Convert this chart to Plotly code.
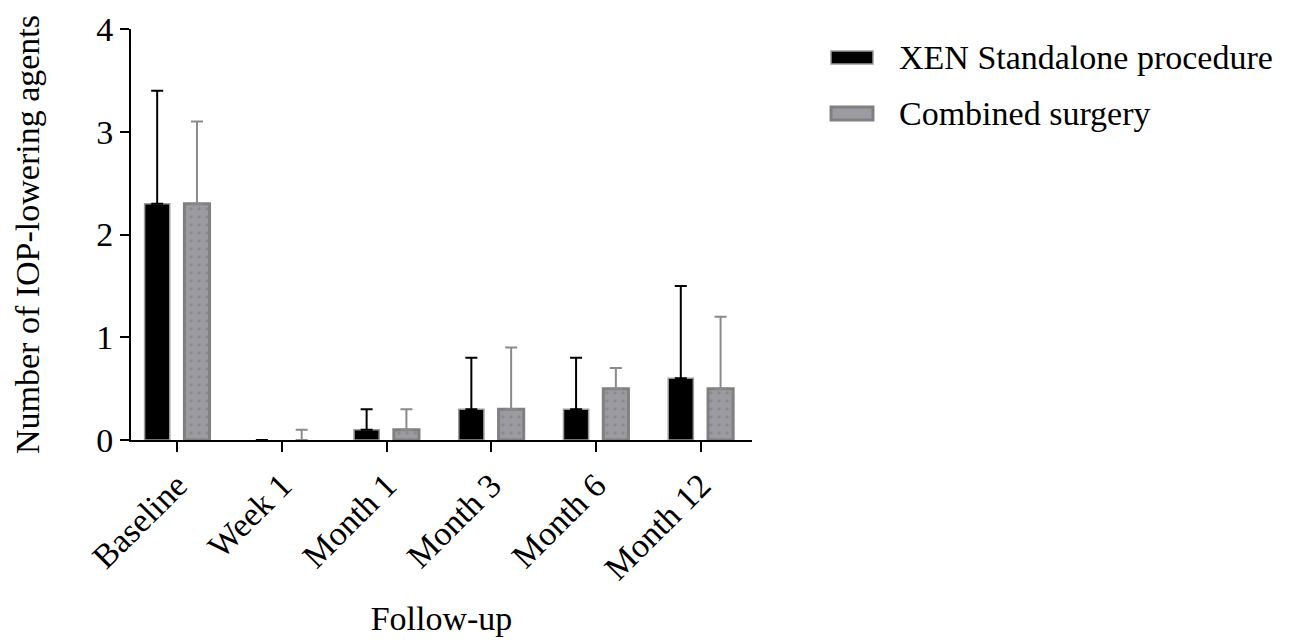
import plotly.graph_objects as go

categories = ["Baseline", "Week 1", "Month 1", "Month 3", "Month 6", "Month 12"]
xen_mean = [2.3, 0.0, 0.1, 0.3, 0.3, 0.6]
xen_sd = [1.1, None, 0.2, 0.5, 0.5, 0.9]
comb_mean = [2.3, 0.0, 0.1, 0.3, 0.5, 0.5]
comb_sd = [0.8, 0.1, 0.2, 0.6, 0.2, 0.7]
series_names = ["XEN Standalone procedure", "Combined surgery"]
y_ticks = [0, 1, 2, 3, 4]

FONT = "Liberation Serif, Times New Roman, serif"
FS = 34

# page body margin compensation
OFF = 8
W, H = 1302 - OFF, 643 - OFF
L, R, T, B = 131 - OFF, 752 - OFF, 29 - OFF, 440 - OFF
pw, ph = R - L, B - T

def px(x):
    return (x - OFF - L) / pw

def py(y):
    return (B - (y - OFF)) / ph

def outline_widths(vals, w):
    return [w if v > 0 else 0 for v in vals]

def lower(errs):
    return [None if e is None else 0 for e in errs]

fig = go.Figure()
fig.add_trace(go.Bar(
    x=categories, y=xen_mean, name=series_names[0],
    width=0.24, offset=-0.31,
    marker=dict(color="black", line=dict(color="#9a9a9a", width=outline_widths(xen_mean, 1.5))),
    error_y=dict(type="data", array=xen_sd, arrayminus=lower(xen_sd),
                 symmetric=False, color="black", thickness=2, width=6),
    showlegend=False,
))
fig.add_trace(go.Bar(
    x=categories, y=comb_mean, name=series_names[1],
    width=0.24, offset=0.07,
    marker=dict(color="#9c9ba1", line=dict(color="#808080", width=outline_widths(comb_mean, 3)),
                pattern=dict(shape=".", fgcolor="#7a7a7a", bgcolor="#9c9ba1",
                             size=8, solidity=0.15)),
    error_y=dict(type="data", array=comb_sd, arrayminus=lower(comb_sd),
                 symmetric=False, color="#8a8a8a", thickness=2, width=6),
    showlegend=False,
))

# manual legend
legend_rows = [(51, 64, 57, "black", "#9a9a9a", 1.5), (107, 120, 114, "#9c9ba1", "#808080", 3)]
shapes = []
annotations = []
for (y0, y1, yc, fill, line, lw), name in zip(legend_rows, series_names):
    shapes.append(dict(type="rect", xref="paper", yref="paper",
                       x0=px(831), x1=px(873), y0=py(y1), y1=py(y0),
                       fillcolor=fill, line=dict(color=line, width=lw)))
    annotations.append(dict(xref="paper", yref="paper", x=px(897), y=py(yc),
                            xanchor="left", yanchor="middle", text=name,
                            showarrow=False, font=dict(family=FONT, size=FS, color="black")))

fig.update_layout(
    width=W, height=H,
    margin=dict(l=L, r=W - R, t=T, b=H - B, pad=0, autoexpand=False),
    plot_bgcolor="white", paper_bgcolor="white",
    barmode="group",
    font=dict(family=FONT, size=FS, color="black"),
    shapes=shapes, annotations=annotations,
    xaxis=dict(
        range=[-0.44, 5.49], showgrid=False, zeroline=False, automargin=False,
        showline=True, linecolor="black", linewidth=2,
        ticks="outside", ticklen=10, tickwidth=2, tickcolor="black",
        tickangle=-45, tickfont=dict(family=FONT, size=FS),
        title=dict(text="Follow-up", font=dict(family=FONT, size=FS), standoff=20),
    ),
    yaxis=dict(
        range=[0, 4], tickvals=y_ticks, showgrid=False, zeroline=False, automargin=False,
        showline=True, linecolor="black", linewidth=2,
        ticks="outside", ticklen=9, tickwidth=2, tickcolor="black",
        tickfont=dict(family=FONT, size=FS),
        title=dict(text="Number of IOP-lowering agents", font=dict(family=FONT, size=FS), standoff=46),
    ),
)

fig.write_html("out.html")
